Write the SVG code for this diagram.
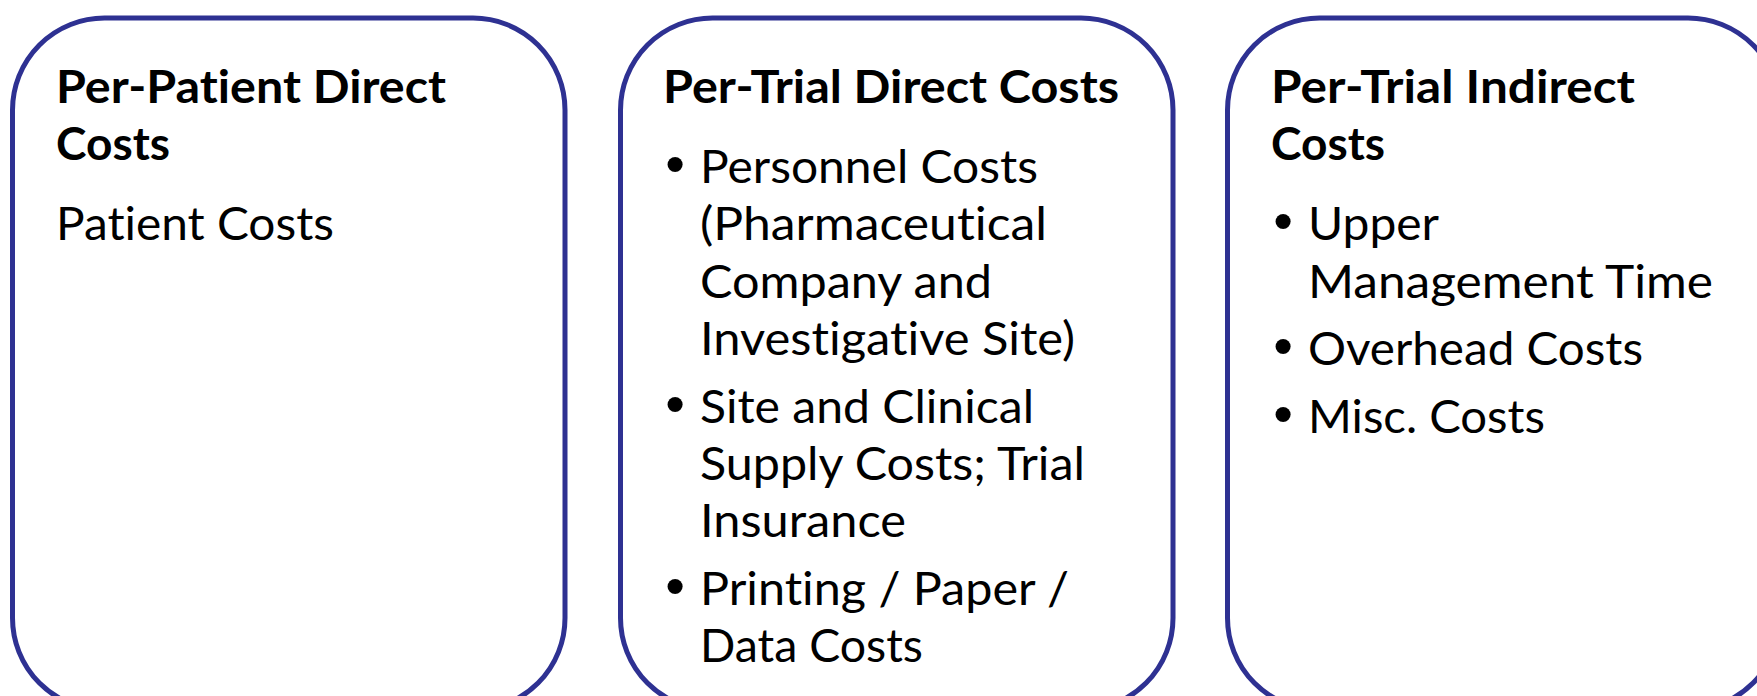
<svg xmlns="http://www.w3.org/2000/svg" width="1757" height="696" viewBox="0 0 1757 696">
  <style>
    .card { fill: #ffffff; stroke: #2E3192; stroke-width: 5; }
    text { font-variant-ligatures: none; fill: #000000; }
    .title { font-family: Lato, "Open Sans", "Liberation Sans", sans-serif; font-weight: 700; font-size: 46px; }
    .body { font-family: Lato, "Open Sans", "Liberation Sans", sans-serif; font-weight: 400; font-size: 46px; }
    .dot { font-family: "DejaVu Sans", sans-serif; font-size: 52px; }
  </style>
  <rect width="1757" height="696" fill="#ffffff"/>

  <!-- Per-patient direct costs -->
  <g id="per-patient-direct">
    <rect class="card" x="12.5" y="18" width="552.5" height="692" rx="92" ry="92"/>
    <text class="title" x="56" y="103" textLength="390" lengthAdjust="spacingAndGlyphs">Per-Patient Direct</text>
    <text class="title" x="56" y="160" textLength="114" lengthAdjust="spacingAndGlyphs">Costs</text>
    <text class="body" x="56" y="240" textLength="278" lengthAdjust="spacingAndGlyphs">Patient Costs</text>
  </g>

  <!-- Per-trial direct costs -->
  <g id="per-trial-direct">
    <rect class="card" x="620.5" y="18" width="552.5" height="692" rx="92" ry="92"/>
    <text class="title" x="663" y="103" textLength="456" lengthAdjust="spacingAndGlyphs">Per-Trial Direct Costs</text>
    <text class="dot" x="675" y="184" text-anchor="middle">•</text>
    <text class="body" x="700" y="183" textLength="338" lengthAdjust="spacingAndGlyphs">Personnel Costs</text>
    <text class="body" x="700" y="240" textLength="347" lengthAdjust="spacingAndGlyphs">(Pharmaceutical</text>
    <text class="body" x="700" y="298" textLength="292" lengthAdjust="spacingAndGlyphs">Company and</text>
    <text class="body" x="700" y="355" textLength="375" lengthAdjust="spacingAndGlyphs">Investigative Site)</text>
    <text class="dot" x="675" y="424" text-anchor="middle">•</text>
    <text class="body" x="700" y="423" textLength="334" lengthAdjust="spacingAndGlyphs">Site and Clinical</text>
    <text class="body" x="700" y="480" textLength="385" lengthAdjust="spacingAndGlyphs">Supply Costs; Trial</text>
    <text class="body" x="700" y="537" textLength="206" lengthAdjust="spacingAndGlyphs">Insurance</text>
    <text class="dot" x="675" y="606" text-anchor="middle">•</text>
    <text class="body" x="700" y="605" textLength="369" lengthAdjust="spacingAndGlyphs">Printing / Paper /</text>
    <text class="body" x="700" y="662" textLength="223" lengthAdjust="spacingAndGlyphs">Data Costs</text>
  </g>

  <!-- Per-trial indirect costs -->
  <g id="per-trial-indirect">
    <rect class="card" x="1227.5" y="18" width="552.5" height="692" rx="92" ry="92"/>
    <text class="title" x="1271" y="103" textLength="364" lengthAdjust="spacingAndGlyphs">Per-Trial Indirect</text>
    <text class="title" x="1271" y="160" textLength="114" lengthAdjust="spacingAndGlyphs">Costs</text>
    <text class="dot" x="1283" y="241" text-anchor="middle">•</text>
    <text class="body" x="1308" y="240" textLength="131" lengthAdjust="spacingAndGlyphs">Upper</text>
    <text class="body" x="1308" y="298" textLength="405" lengthAdjust="spacingAndGlyphs">Management Time</text>
    <text class="dot" x="1283" y="366" text-anchor="middle">•</text>
    <text class="body" x="1308" y="365" textLength="335" lengthAdjust="spacingAndGlyphs">Overhead Costs</text>
    <text class="dot" x="1283" y="434" text-anchor="middle">•</text>
    <text class="body" x="1308" y="433" textLength="237" lengthAdjust="spacingAndGlyphs">Misc. Costs</text>
  </g>

  <!-- no connectors in this layout -->
  <g id="connectors"/>
</svg>
